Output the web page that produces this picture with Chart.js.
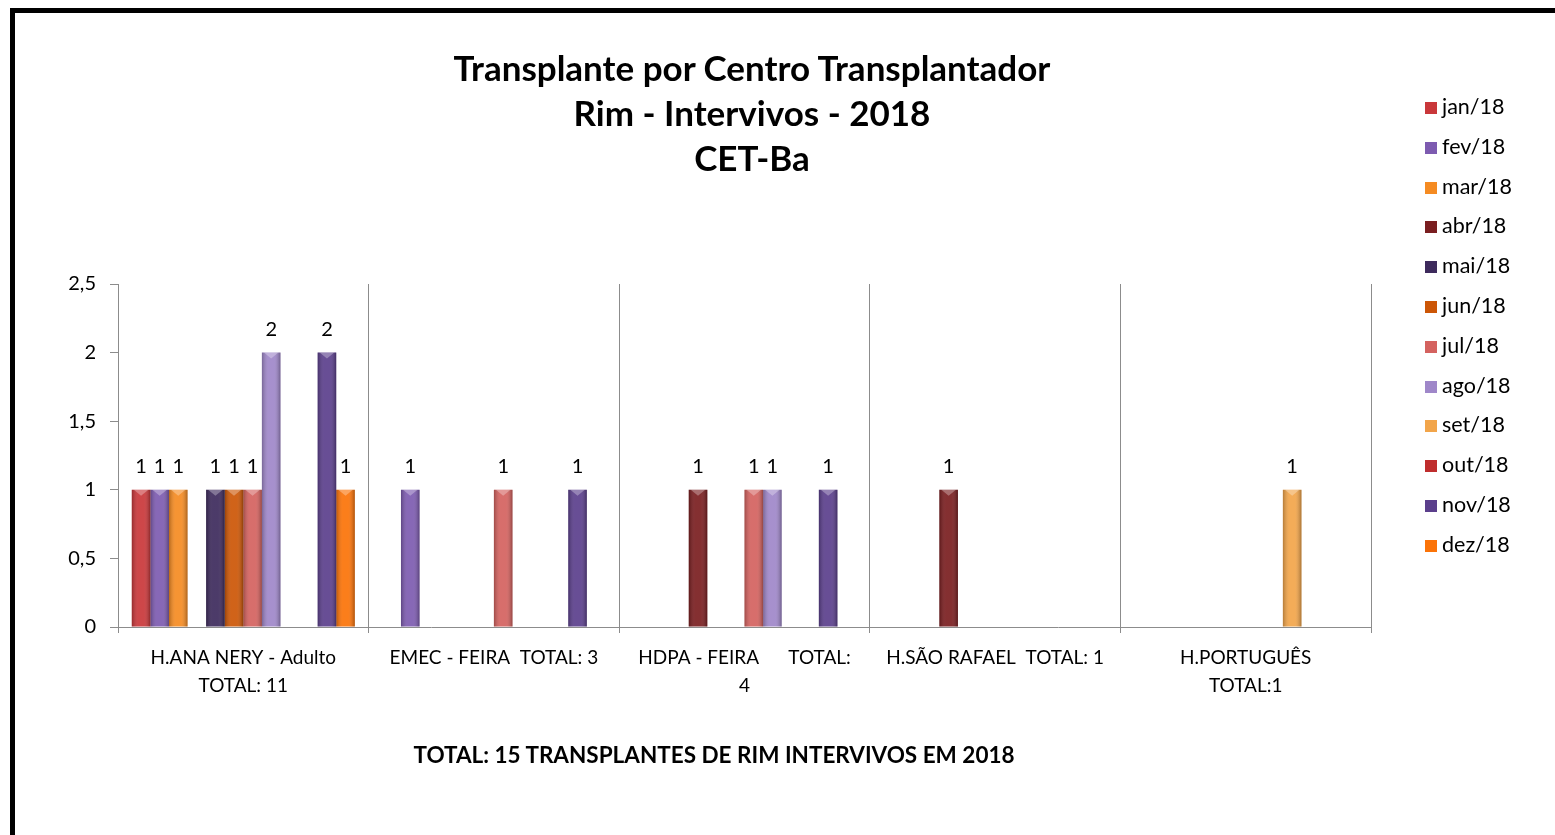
<!DOCTYPE html>
<html lang="pt">
<head>
<meta charset="UTF-8">
<title>Transplante por Centro Transplantador</title>
<script src="https://cdn.jsdelivr.net/npm/chart.js"></script>
<style>
  html, body { margin: 0; padding: 0; background: #fff; }
  body { width: 1555px; height: 835px; position: relative; overflow: hidden; font-family: Lato, "Open Sans", sans-serif; }
  #wrap { position: absolute; left: 0; top: 0; width: 1555px; height: 835px; }
  #frame { position: absolute; left: 10px; top: 8px; width: 1700px; height: 1000px; border-left: 5px solid #000; border-top: 5px solid #000; pointer-events: none; }
  #title { position: absolute; left: 0; width: 1504px; top: 45px; text-align: center; font-weight: bold; font-size: 35px; line-height: 45px; color: #000; }
  #note { position: absolute; left: 0; width: 1428px; top: 743px; text-align: center; font-weight: bold; font-size: 22.5px; line-height: 24px; color: #000; }
  #legend { position: absolute; left: 1425px; top: 87px; font-size: 21.5px; color: #000; }
  #legend div { height: 39.8px; line-height: 39.8px; white-space: nowrap; }
  #legend span.box { display: inline-block; width: 12px; height: 12px; margin-right: 5px; vertical-align: 0px; }
</style>
</head>
<body>
<div id="wrap"><canvas id="chart" width="1555" height="835"></canvas></div>
<div id="title">Transplante por Centro Transplantador<br>Rim - Intervivos - 2018<br>CET-Ba</div>
<div id="legend"></div>
<div id="note">TOTAL: 15 TRANSPLANTES DE RIM INTERVIVOS EM 2018</div>
<div id="frame"></div>

<script>
// centros (rótulos do eixo x, com quebra de linha)
const centers = [
  ['H.ANA NERY - Adulto', 'TOTAL: 11'],
  'EMEC - FEIRA  TOTAL: 3',
  ['HDPA - FEIRA      TOTAL:', '4'],
  'H.SÃO RAFAEL  TOTAL: 1',
  ['H.PORTUGUÊS', 'TOTAL:1']
];

const months = ['jan/18', 'fev/18', 'mar/18', 'abr/18', 'mai/18', 'jun/18',
                'jul/18', 'ago/18', 'set/18', 'out/18', 'nov/18', 'dez/18'];

// transplantes por mês, um valor por centro
const jan = [1, 0, 0, 0, 0];
const fev = [1, 1, 0, 0, 0];
const mar = [1, 0, 0, 0, 0];
const abr = [0, 0, 1, 1, 0];
const mai = [1, 0, 0, 0, 0];
const jun = [1, 0, 0, 0, 0];
const jul = [1, 1, 1, 0, 0];
const ago = [2, 0, 1, 0, 0];
const set = [0, 0, 0, 0, 1];
const out = [0, 0, 0, 0, 0];
const nov = [2, 1, 1, 0, 0];
const dez = [1, 0, 0, 0, 0];

const yTicks = [0, 0.5, 1, 1.5, 2, 2.5];

const monthData = [jan, fev, mar, abr, mai, jun, jul, ago, set, out, nov, dez];
const colors = ['#c9373a', '#7d5bb0', '#f58b22', '#7a1e20', '#3d2a5c', '#cc5606',
                '#d4625f', '#9f87c9', '#f2a54a', '#bf2d2d', '#5b3f8c', '#fb7308'];

const datasets = months.map((m, i) => ({
  label: m,
  data: monthData[i],
  backgroundColor: colors[i],
  borderWidth: 0
}));

// legenda em html
const legend = document.getElementById('legend');
months.forEach((m, i) => {
  const row = document.createElement('div');
  row.innerHTML = '<span class="box" style="background:' + colors[i] + '"></span>' + m;
  legend.appendChild(row);
});

// rótulos de valor e brilho das barras
const barLabels = {
  id: 'barLabels',
  afterDatasetsDraw(chart) {
    const ctx = chart.ctx;
    ctx.save();
    chart.data.datasets.forEach((ds, i) => {
      chart.getDatasetMeta(i).data.forEach((bar, j) => {
        const v = ds.data[j];
        if (!v) return;
        const w = bar.width, left = bar.x - w / 2;
        const g = ctx.createLinearGradient(left, 0, left + w, 0);
        g.addColorStop(0, 'rgba(0,0,0,0.25)');
        g.addColorStop(0.35, 'rgba(255,255,255,0.08)');
        g.addColorStop(0.65, 'rgba(255,255,255,0.08)');
        g.addColorStop(1, 'rgba(0,0,0,0.3)');
        ctx.fillStyle = g;
        ctx.fillRect(left, bar.y, w, bar.base - bar.y);
        ctx.fillStyle = 'rgba(255,255,255,0.3)';
        ctx.beginPath();
        ctx.moveTo(left + 2, bar.y);
        ctx.lineTo(left + w - 2, bar.y);
        ctx.lineTo(bar.x, bar.y + 6);
        ctx.closePath();
        ctx.fill();
        ctx.fillStyle = '#000';
        ctx.font = '20px Lato';
        ctx.textAlign = 'center';
        ctx.textBaseline = 'middle';
        ctx.fillText(String(v), bar.x, bar.y - 23);
      });
    });
    ctx.restore();
  }
};

new Chart(document.getElementById('chart'), {
  type: 'bar',
  data: { labels: centers, datasets: datasets },
  options: {
    responsive: false,
    animation: false,
    layout: { padding: { left: 0, right: 184, top: 284, bottom: 0 } },
    datasets: { bar: { categoryPercentage: 0.89, barPercentage: 1.0 } },
    plugins: {
      legend: { display: false },
      title: { display: false },
      tooltip: { enabled: false }
    },
    scales: {
      x: {
        afterFit: s => { s.height = 835 - 627; },
        grid: { color: '#8c8c8c', lineWidth: 1, tickLength: 6, drawOnChartArea: true, offset: true },
        border: { color: '#8c8c8c' },
        ticks: { color: '#000', font: { family: 'Lato', size: 19, lineHeight: 1.47 }, padding: 11, maxRotation: 0, autoSkip: false }
      },
      y: {
        min: 0,
        max: 2.5,
        afterFit: s => { s.width = 118; },
        afterBuildTicks: s => { s.ticks = yTicks.map(v => ({ value: v })); },
        grid: { drawOnChartArea: false, tickLength: 8, color: '#8c8c8c' },
        border: { color: '#8c8c8c' },
        ticks: {
          color: '#000',
          padding: 14,
          font: { family: 'Lato', size: 20 },
          callback: v => String(v).replace('.', ',')
        }
      }
    }
  },
  plugins: [barLabels]
});
</script>
</body>
</html>
